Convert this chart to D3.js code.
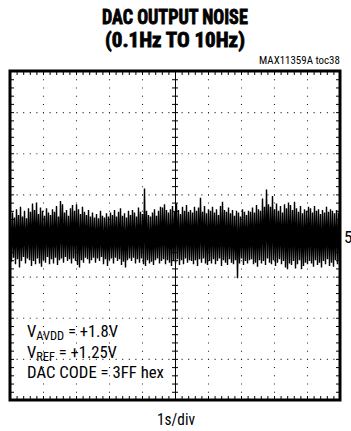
<!DOCTYPE html>
<html><head><meta charset="utf-8">
<script src="https://cdn.jsdelivr.net/npm/d3@7"></script>
<style>html,body{margin:0;padding:0;background:#fff;} svg{display:block;}</style>
</head><body>
<svg id="c" width="351" height="431"></svg>
<script>
// ---------- data ----------
const titleLines = ["DAC OUTPUT NOISE", "(0.1Hz TO 10Hz)"];
const tocLabel = "MAX11359A toc38";
const xUnitLabel = "1s/div";
const yUnitLabel = "5µV/div";
const timeDomain = [0, 10];        // seconds, 1 s/div, 10 divisions
const voltDomain = [-20, 20];      // µV, 5 µV/div, 8 divisions
const xMajor = d3.range(0, 11, 1);
const yMajor = d3.range(-20, 25, 5);
const annotations = [
  {main: "V", sub: "AVDD", rest: " = +1.8V"},
  {main: "V", sub: "REF", rest: " = +1.25V"},
  {main: "DAC CODE = 3FF hex", sub: "", rest: ""}
];
// noise envelope read column by column (µV), 165 samples across 10 s
const noiseHigh = [
 1.9,2.8,2.2,3.2,2.5,3.5,2.3,3.0,2.1,3.3,
 2.9,3.9,3.1,4.0,2.6,3.4,3.0,2.4,3.3,2.8,
 2.5,3.2,2.9,3.6,2.3,4.2,3.8,2.8,3.1,2.4,
 3.3,3.7,3.0,3.8,3.2,2.6,3.5,2.9,2.5,3.1,
 2.3,2.8,2.2,2.6,2.1,3.0,2.4,2.2,2.7,2.3,
 2.8,2.5,3.1,2.3,2.9,3.3,2.4,2.7,2.2,3.0,
 2.5,3.1,2.8,2.3,3.4,2.9,2.6,5.7,3.0,2.5,
 2.3,2.8,3.2,2.4,3.0,3.5,3.4,3.8,3.1,2.8,
 3.2,3.6,2.9,3.9,3.1,2.6,3.5,3.0,3.7,2.9,
 3.1,2.8,3.5,3.0,3.4,4.6,2.9,3.6,2.7,3.2,
 3.0,3.5,2.8,3.2,2.5,3.6,4.1,3.1,2.9,3.4,
 2.7,3.1,2.4,3.0,2.8,2.3,3.2,2.9,2.5,3.0,
 2.9,3.4,2.8,3.7,3.2,3.0,4.5,3.5,5.6,3.8,
 3.5,4.8,3.2,3.9,3.0,3.6,2.8,3.8,3.3,4.0,
 3.7,3.1,4.1,3.3,2.9,3.6,2.7,3.2,3.0,3.5,
 3.3,2.8,3.6,3.0,3.2,2.6,3.1,2.8,3.5,2.9,
 3.2,3.0,2.7,3.1,2.8
];
const noiseLow = [
 -3.2,-2.7,-3.5,-2.9,-3.9,-3.1,-2.6,-3.4,-2.8,-3.0,
 -3.7,-3.1,-3.5,-2.8,-3.4,-3.8,-3.0,-3.3,-2.6,-3.5,
 -2.9,-3.4,-2.7,-3.6,-3.0,-2.8,-3.3,-2.6,-3.1,-2.9,
 -3.4,-2.8,-3.1,-3.6,-3.9,-3.0,-3.3,-2.7,-2.9,-3.4,
 -3.0,-2.7,-3.3,-2.8,-3.1,-2.6,-3.5,-2.9,-3.7,-3.0,
 -2.8,-3.4,-2.7,-3.1,-2.9,-3.6,-3.2,-3.9,-3.0,-2.8,
 -3.1,-2.7,-3.4,-2.9,-3.3,-2.8,-3.5,-3.7,-3.0,-3.4,
 -3.2,-3.6,-3.0,-2.8,-3.4,-3.1,-2.9,-3.5,-3.0,-3.3,
 -3.7,-3.1,-3.4,-2.9,-3.6,-3.0,-3.5,-2.8,-3.3,-3.0,
 -3.1,-3.5,-3.0,-3.7,-2.9,-3.3,-2.8,-3.4,-3.6,-3.1,
 -3.4,-2.9,-3.5,-3.1,-2.8,-3.7,-3.0,-3.3,-3.6,-2.9,
 -3.3,-3.5,-3.0,-5.2,-3.4,-2.8,-3.6,-3.1,-3.4,-3.0,
 -2.9,-3.5,-3.3,-3.8,-3.0,-3.4,-3.1,-3.6,-2.8,-3.3,
 -3.5,-3.0,-3.7,-3.3,-2.9,-3.5,-3.1,-3.9,-4.1,-3.4,
 -3.6,-3.1,-4.0,-3.5,-3.0,-4.1,-3.7,-3.3,-3.5,-3.1,
 -3.4,-3.8,-3.0,-3.6,-3.3,-3.9,-3.1,-3.5,-2.9,-3.7,
 -3.3,-3.8,-3.0,-3.5,-3.1
];

// ---------- layout ----------
const plot = {left: 10, right: 340, top: 71, bottom: 400};
const narrow = "'Liberation Sans Narrow','Arial Narrow','Roboto Condensed','Liberation Sans',Arial,sans-serif";
const svg = d3.select("#c");
const x = d3.scaleLinear().domain(timeDomain).range([plot.left, plot.right]);
const y = d3.scaleLinear().domain(voltDomain).range([plot.bottom, plot.top]);

function fit(sel, x0, targetW, anchor) {
  const w = sel.node().getBBox().width;
  const s = targetW / w;
  const y0 = +sel.attr("data-y");
  let tx = x0;
  if (anchor === "middle") tx = x0 - targetW / 2;
  if (anchor === "end") tx = x0 - targetW;
  sel.attr("transform", `translate(${tx},${y0}) scale(${s},1)`);
}
function addText(str, x0, y0, size, weight, targetW, anchor) {
  const t = svg.append("text").attr("x", 0).attr("y", 0).attr("data-y", y0)
    .attr("font-family", narrow).attr("font-size", size).attr("font-weight", weight)
    .attr("fill", "#000").text(str);
  fit(t, x0, targetW, anchor);
  return t;
}

// titles (heavy condensed)
addText(titleLines[0], 175, 24, 20, "bold", 146, "middle").attr("stroke", "#000").attr("stroke-width", 0.8);
addText(titleLines[1], 175, 47, 20, "bold", 140, "middle").attr("stroke", "#000").attr("stroke-width", 0.8);
addText(tocLabel, 340, 64, 10, "normal", 81, "end");

// grid (dotted)
const minorX = d3.range(0, 10.001, 0.2);
const minorY = d3.range(-20, 20.001, 1);
const dotX = (x(1) - x(0)) / 5, dotY = (y(0) - y(5)) / 5;
const grid = svg.append("g").attr("stroke", "#222").attr("stroke-width", 1.1);
grid.selectAll("line.v").data(xMajor.filter(d => d > 0 && d < 10 && d !== 5)).join("line")
  .attr("x1", d => x(d) + 0.5).attr("x2", d => x(d) + 0.5)
  .attr("y1", plot.top).attr("y2", plot.bottom)
  .attr("stroke-dasharray", `1 ${dotY - 1}`);
grid.selectAll("line.h").data(yMajor.filter(d => d > -20 && d < 20 && d !== 0)).join("line")
  .attr("y1", d => y(d) + 0.5).attr("y2", d => y(d) + 0.5)
  .attr("x1", plot.left).attr("x2", plot.right)
  .attr("stroke-dasharray", `1 ${dotX - 1}`);

// noise trace
const pts = [];
const n = noiseHigh.length;
const dt = (timeDomain[1] - timeDomain[0]) / n;
for (let i = 0; i < n; i++) {
  pts.push([timeDomain[0] + (i + 0.25) * dt, noiseHigh[i]]);
  pts.push([timeDomain[0] + (i + 0.75) * dt, noiseLow[i]]);
}
svg.append("path").datum(pts)
  .attr("fill", "none").attr("stroke", "#000").attr("stroke-width", 1.4)
  .attr("stroke-linejoin", "miter").attr("stroke-miterlimit", 1)
  .attr("d", d3.line().x(d => x(d[0])).y(d => y(d[1])));

// center crosshair with minor ticks
const cx = svg.append("g").attr("transform", `translate(0,${y(0)})`);
cx.call(d3.axisBottom(x).tickValues(minorX).tickSize(3).tickSizeOuter(0).tickFormat(""));
const cx2 = svg.append("g").attr("transform", `translate(0,${y(0)})`);
cx2.call(d3.axisTop(x).tickValues(minorX).tickSize(3).tickSizeOuter(0).tickFormat(""));
const cy = svg.append("g").attr("transform", `translate(${x(5)},0)`);
cy.call(d3.axisRight(y).tickValues(minorY).tickSize(3).tickSizeOuter(0).tickFormat(""));
const cy2 = svg.append("g").attr("transform", `translate(${x(5)},0)`);
cy2.call(d3.axisLeft(y).tickValues(minorY).tickSize(3).tickSizeOuter(0).tickFormat(""));

// edge ticks (inward)
svg.append("g").attr("transform", `translate(0,${plot.top})`)
  .call(d3.axisBottom(x).tickValues(minorX).tickSize(4).tickSizeOuter(0).tickFormat(""));
svg.append("g").attr("transform", `translate(0,${plot.bottom})`)
  .call(d3.axisTop(x).tickValues(minorX).tickSize(4).tickSizeOuter(0).tickFormat(""));
svg.append("g").attr("transform", `translate(${plot.left},0)`)
  .call(d3.axisRight(y).tickValues(minorY).tickSize(4).tickSizeOuter(0).tickFormat(""));
svg.append("g").attr("transform", `translate(${plot.right},0)`)
  .call(d3.axisLeft(y).tickValues(minorY).tickSize(4).tickSizeOuter(0).tickFormat(""));
svg.selectAll(".domain").attr("stroke", "#000").attr("stroke-width", 1);
svg.selectAll(".tick line").attr("stroke", "#000").attr("stroke-width", 1);

// frame
svg.append("rect").attr("x", plot.left).attr("y", plot.top)
  .attr("width", plot.right - plot.left).attr("height", plot.bottom - plot.top)
  .attr("fill", "none").attr("stroke", "#000").attr("stroke-width", 3);

// annotations
const annoY = [337, 357.5, 378];
const annoW = [91, 90, 137];
annotations.forEach((a, i) => {
  const t = svg.append("text").attr("x", 0).attr("y", 0).attr("data-y", annoY[i])
    .attr("font-family", narrow).attr("font-size", 16).attr("fill", "#000");
  t.append("tspan").text(a.main);
  if (a.sub) {
    t.append("tspan").attr("font-size", 12).attr("dy", 3).text(a.sub);
    t.append("tspan").attr("dy", -3).text(a.rest);
  }
  fit(t, 27, annoW[i], "start");
});

// axis unit labels
addText(xUnitLabel, 176, 425, 17, "normal", 38, "middle");
svg.append("text").attr("x", 344).attr("y", 243).attr("font-family", narrow)
  .attr("font-size", 17).attr("fill", "#000").text(yUnitLabel);
</script>
</body></html>
